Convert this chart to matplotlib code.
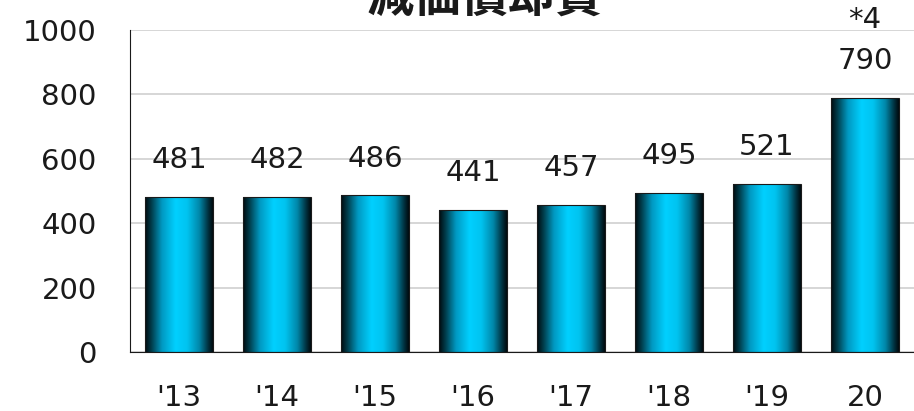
import numpy as np
import matplotlib
matplotlib.use("Agg")
import matplotlib.pyplot as plt
from matplotlib.colors import LinearSegmentedColormap

plt.rcParams['font.family'] = ['DejaVu Sans', 'Noto Sans CJK JP']

years = ["'13", "'14", "'15", "'16", "'17", "'18", "'19", "20"]
values = [481, 482, 486, 441, 457, 495, 521, 790]
value_labels = ["481", "482", "486", "441", "457", "495", "521", "790"]
note_idx = 7
note_text = "*4"
title = "減価償却費"

# horizontal shading for the cylinder-like bars
shade = LinearSegmentedColormap.from_list("shade", [
    (0.00, "#000a0e"),
    (0.10, "#00404f"),
    (0.25, "#0099c2"),
    (0.45, "#00d0ff"),
    (0.62, "#00c4f0"),
    (0.80, "#0088aa"),
    (0.93, "#003240"),
    (1.00, "#000a0e"),
])

fig = plt.figure(figsize=(9.14, 4.11), dpi=100)
ax = fig.add_axes([0.1422, 0.1436, 0.8578, 0.7834])

x = np.arange(len(years))
bars = ax.bar(x, values, width=0.69, color="none", edgecolor="#1a1a1a", linewidth=0.8, zorder=3)

grad = np.linspace(0, 1, 256).reshape(1, -1)
for b in bars:
    x0, y0 = b.get_x(), b.get_y()
    w, h = b.get_width(), b.get_height()
    im = ax.imshow(grad, cmap=shade, aspect="auto", extent=[x0, x0 + w, y0, y0 + h],
                   interpolation="bicubic", zorder=2)
    im.set_clip_path(b)

for xi, v, lab in zip(x, values, value_labels):
    ax.annotate(lab, (xi, v), xytext=(0, 26.5), textcoords="offset points",
                ha="center", va="center", fontsize=21, color="#1a1a1a", zorder=4,
                annotation_clip=False)
ax.annotate(note_text, (x[note_idx], values[note_idx]), xytext=(0, 56),
            textcoords="offset points", ha="center", va="center", fontsize=21,
            color="#1a1a1a", annotation_clip=False)

ax.set_xlim(-0.5, len(years) - 0.5)
ax.set_ylim(0, 1000)
ax.set_yticks(range(0, 1001, 200))
ax.set_xticks(x)
ax.set_xticklabels(years)
ax.tick_params(axis="both", length=0, labelsize=21, colors="#1a1a1a")
ax.tick_params(axis="y", pad=24)
ax.tick_params(axis="x", pad=23)
ax.yaxis.grid(True, color="#d0d0d0", linewidth=1.2, zorder=0)
ax.set_axisbelow(True)
for s in ["top", "right"]:
    ax.spines[s].set_visible(False)
ax.spines["left"].set_color("#1a1a1a")
ax.spines["bottom"].set_color("#1a1a1a")

# heading sits partly above the canvas top
fig.text(485 / 914, 1 - 12 / 411, title, ha="center", va="baseline", fontsize=34,
         fontweight="bold", family=["Noto Sans CJK JP"], color="#1a1a1a")

fig.savefig("out.png", dpi=100)
